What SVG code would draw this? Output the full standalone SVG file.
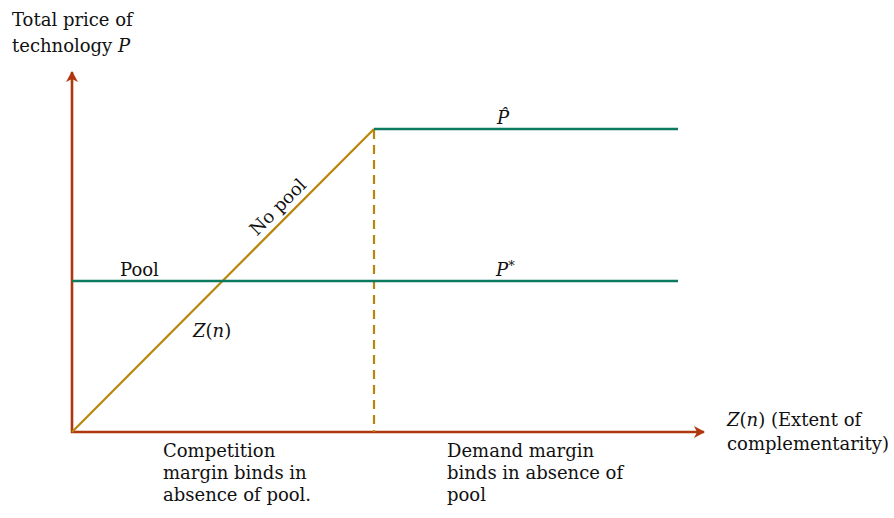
<svg xmlns="http://www.w3.org/2000/svg" width="894" height="518" viewBox="0 0 894 518">
<style>
text{font-family:"DejaVu Serif","Liberation Serif",serif;font-size:18px;fill:#111}
.it{font-style:italic}
.axis{stroke:#b0360f;stroke-width:2.6;fill:none}
.teal{stroke:#0d7a5f;stroke-width:2.6;fill:none}
.gold{stroke:#b8860b;stroke-width:2.2;fill:none}
</style>
<defs>
<marker id="ah" markerWidth="14" markerHeight="14" refX="10" refY="6" orient="auto" markerUnits="userSpaceOnUse">
<path d="M0,0 L11,6 L0,12 L3,6 Z" fill="#b0360f"/>
</marker>
</defs>
<g id="connectors">
<line class="axis" x1="72" y1="433" x2="72" y2="72" marker-end="url(#ah)"/>
<line class="axis" x1="71" y1="432" x2="704" y2="432" marker-end="url(#ah)"/>
<line class="gold" x1="374" y1="130" x2="374" y2="432" stroke-dasharray="9,6" stroke-width="1.5"/>
<line class="gold" x1="72" y1="432" x2="374" y2="129"/>
<line class="teal" x1="374" y1="129" x2="678" y2="129"/>
<line class="teal" x1="72" y1="281" x2="678" y2="281"/>
</g>
<g id="ylabel">
<text x="12" y="26">Total price of</text>
<text x="12" y="52">technology <tspan class="it">P</tspan></text>
</g>
<g id="xlabel">
<text x="727" y="426"><tspan class="it">Z</tspan>(<tspan class="it">n</tspan>) (Extent of</text>
<text x="727" y="450">complementarity)</text>
</g>
<g id="phat">
<text x="497" y="124" class="it">P&#x0302;</text>
</g>
<g id="pstar"><text x="496" y="276"><tspan class="it">P</tspan><tspan font-size="13" dy="-6">*</tspan></text></g>
<g id="pool"><text x="120" y="276">Pool</text></g>
<g id="nopool"><text x="278" y="213" text-anchor="middle" transform="rotate(-45 278 207)">No pool</text></g>
<g id="zn"><text x="193" y="337"><tspan class="it">Z</tspan>(<tspan class="it">n</tspan>)</text></g>
<g id="left-region">
<text x="163" y="457">Competition</text>
<text x="163" y="479">margin binds in</text>
<text x="163" y="501">absence of pool.</text>
</g>
<g id="right-region">
<text x="447" y="457">Demand margin</text>
<text x="447" y="479">binds in absence of</text>
<text x="447" y="501">pool</text>
</g>
</svg>
